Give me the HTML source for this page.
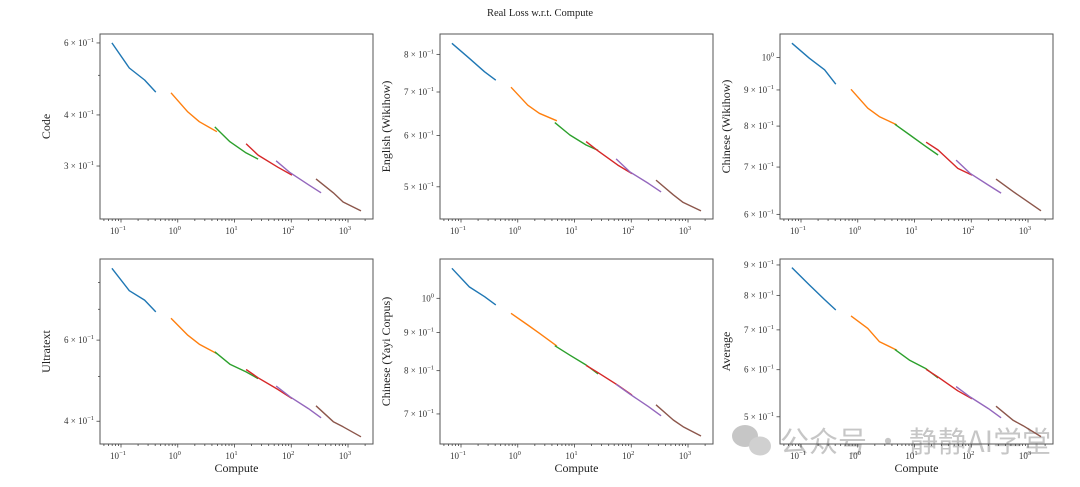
<!DOCTYPE html>
<html><head><meta charset="utf-8"><style>
html,body{margin:0;padding:0;background:#fff;}
svg{display:block;font-family:"Liberation Serif",serif;}
</style></head><body>
<svg id="fig" width="1080" height="487" viewBox="0 0 1080 487">
<text x="540" y="16" text-anchor="middle" font-size="10.5" fill="#222">Real Loss w.r.t. Compute</text>
<g opacity="0.55">
<ellipse cx="745" cy="436" rx="13" ry="11" fill="#999"/>
<ellipse cx="760" cy="446" rx="11" ry="9.5" fill="#aaa"/>
<text x="780" y="452" font-family="'Noto Sans CJK SC',sans-serif" font-size="29" fill="#999">公众号 · 静静AI学堂</text>
</g>
</svg>
<script>
const segX = [
 [0.069,0.14,0.26,0.41],
 [0.76,1.5,2.4,4.9],
 [4.5,8.3,16,26],
 [16,26,58,103],
 [54,95,200,335],
 [273,550,820,1690]
];
const codeY = [[0.600,0.521,0.487,0.455],[0.453,0.407,0.385,0.364],[0.374,0.344,0.323,0.312],[0.340,0.319,0.298,0.285],[0.309,0.289,0.270,0.258],[0.279,0.258,0.245,0.233]];
const englishY = [[0.832,0.789,0.752,0.730],[0.712,0.668,0.649,0.632],[0.628,0.601,0.580,0.569],[0.587,0.568,0.540,0.524],[0.552,0.527,0.506,0.491],[0.512,0.486,0.473,0.459]];
const chineseWikiY = [[1.048,0.998,0.961,0.917],[0.902,0.848,0.825,0.803],[0.805,0.777,0.748,0.728],[0.759,0.740,0.697,0.682],[0.716,0.686,0.660,0.643],[0.673,0.646,0.632,0.607]];
const ultraY = [[0.859,0.768,0.733,0.691],[0.669,0.615,0.588,0.561],[0.566,0.532,0.512,0.495],[0.518,0.497,0.469,0.448],[0.477,0.452,0.426,0.407],[0.432,0.399,0.389,0.370]];
const yayiY = [[1.097,1.036,1.005,0.980],[0.955,0.921,0.898,0.863],[0.864,0.839,0.814,0.792],[0.813,0.795,0.765,0.742],[0.767,0.744,0.716,0.696],[0.720,0.687,0.673,0.654]];
const avgY = [[0.891,0.833,0.787,0.756],[0.739,0.704,0.669,0.647],[0.649,0.622,0.602,0.581],[0.601,0.583,0.553,0.536],[0.562,0.540,0.516,0.498],[0.521,0.493,0.483,0.463]];
const xTickExps = [-1,0,1,2,3];
const colors = ["#1f77b4","#ff7f0e","#2ca02c","#d62728","#9467bd","#8c564b"];
const panels = [
 {name:"code",label:"Code",x:100,y:34,data:codeY,ylim:[0.2226,0.631],major:[0.6,0.4,0.3],minor:[0.5],xl:false},
 {name:"english-wikihow",label:"English (Wikihow)",x:440,y:34,data:englishY,ylim:[0.446,0.860],major:[0.8,0.7,0.6,0.5],minor:[],xl:false},
 {name:"chinese-wikihow",label:"Chinese (Wikihow)",x:780,y:34,data:chineseWikiY,ylim:[0.591,1.080],major:[1.0,0.9,0.8,0.7,0.6],minor:[],xl:false},
 {name:"ultratext",label:"Ultratext",x:100,y:259,data:ultraY,ylim:[0.357,0.900],major:[0.6,0.4],minor:[0.5,0.7,0.8],xl:true},
 {name:"chinese-yayi",label:"Chinese (Yayi Corpus)",x:440,y:259,data:yayiY,ylim:[0.638,1.129],major:[1.0,0.9,0.8,0.7],minor:[],xl:true},
 {name:"average",label:"Average",x:780,y:259,data:avgY,ylim:[0.450,0.921],major:[0.9,0.8,0.7,0.6,0.5],minor:[],xl:true}
];
const NS="http://www.w3.org/2000/svg";
const svg=document.getElementById('fig');
const W=273,H=185,XL=-1.37,XR=3.44;
function mk(tag,attrs,parent){const e=document.createElementNS(NS,tag);for(const k in attrs)e.setAttribute(k,attrs[k]);parent.appendChild(e);return e;}
const sup={"-":"−","0":"0","1":"1","2":"2","3":"3"};
panels.forEach(p=>{
 const g=mk('g',{},svg);
 
 
 const xs=v=>p.x+(Math.log10(v)-XL)/(XR-XL)*W;
 const ys=v=>p.y+(Math.log10(p.ylim[1])-Math.log10(v))/(Math.log10(p.ylim[1])-Math.log10(p.ylim[0]))*H;
 // series
 p.data.forEach((seg,i)=>{
  const d=seg.map((v,j)=>(j?'L':'M')+xs(segX[i][j]).toFixed(1)+' '+ys(v).toFixed(1)).join(' ');
  const path=mk('path',{d:d,fill:'none',stroke:colors[i],'stroke-width':1.4,'stroke-linejoin':'round'},g);
  
  
 });
 const fr=mk('rect',{x:p.x,y:p.y,width:W,height:H,fill:'none',stroke:'#555','stroke-width':1},g);
 
 
 // x ticks
 for(let e=-2;e<=3;e++){for(let m=1;m<10;m++){const v=m*Math.pow(10,e);const lv=Math.log10(v);if(lv<XL||lv>XR)continue;const X=xs(v);const len=m===1?3.5:2;mk('line',{x1:X,x2:X,y1:p.y+H,y2:p.y+H+len,stroke:'#444','stroke-width':0.8},g);}}
 xTickExps.forEach(e=>{const X=xs(Math.pow(10,e));const t=mk('text',{x:X-3,y:p.y+H+15,'text-anchor':'middle','font-size':9,fill:'#333'},g);
  
  
  t.textContent='10';const s=mk('tspan',{dy:-4,'font-size':6.5},t);s.textContent=String(e).replace('-','−');});
 // y ticks
 p.major.forEach(v=>{const Y=ys(v);mk('line',{x1:p.x-3.5,x2:p.x,y1:Y,y2:Y,stroke:'#444','stroke-width':0.8},g);
  const t=mk('text',{x:p.x-6,y:Y+3,'text-anchor':'end','font-size':9,fill:'#333'},g);
  
  
  if(Math.abs(v-1)<1e-9){t.textContent='10';const s=mk('tspan',{dy:-4,'font-size':6.5},t);s.textContent='0';}
  else{t.textContent=Math.round(v*10)+' × 10';const s=mk('tspan',{dy:-4,'font-size':6.5},t);s.textContent='−1';}});
 p.minor.forEach(v=>{const Y=ys(v);mk('line',{x1:p.x-2,x2:p.x,y1:Y,y2:Y,stroke:'#444','stroke-width':0.8},g);});
 const cy=p.y+H/2;const lx=p.x-(p.major.some(v=>Math.abs(v-1)<1e-9)&&p.major.length<=4&&p.name!=='chinese-yayi'?30:50);
 const yl=mk('text',{x:p.x-50,y:cy,'text-anchor':'middle','font-size':12,fill:'#222',transform:'rotate(-90 '+(p.x-50)+' '+cy+')'},g);
 
 
 yl.textContent=p.label;
 if(p.xl){const xl=mk('text',{x:p.x+W/2,y:p.y+H+28,'text-anchor':'middle','font-size':12,fill:'#222'},g);
  
  
  xl.textContent='Compute';}
});
</script>
</body></html>
